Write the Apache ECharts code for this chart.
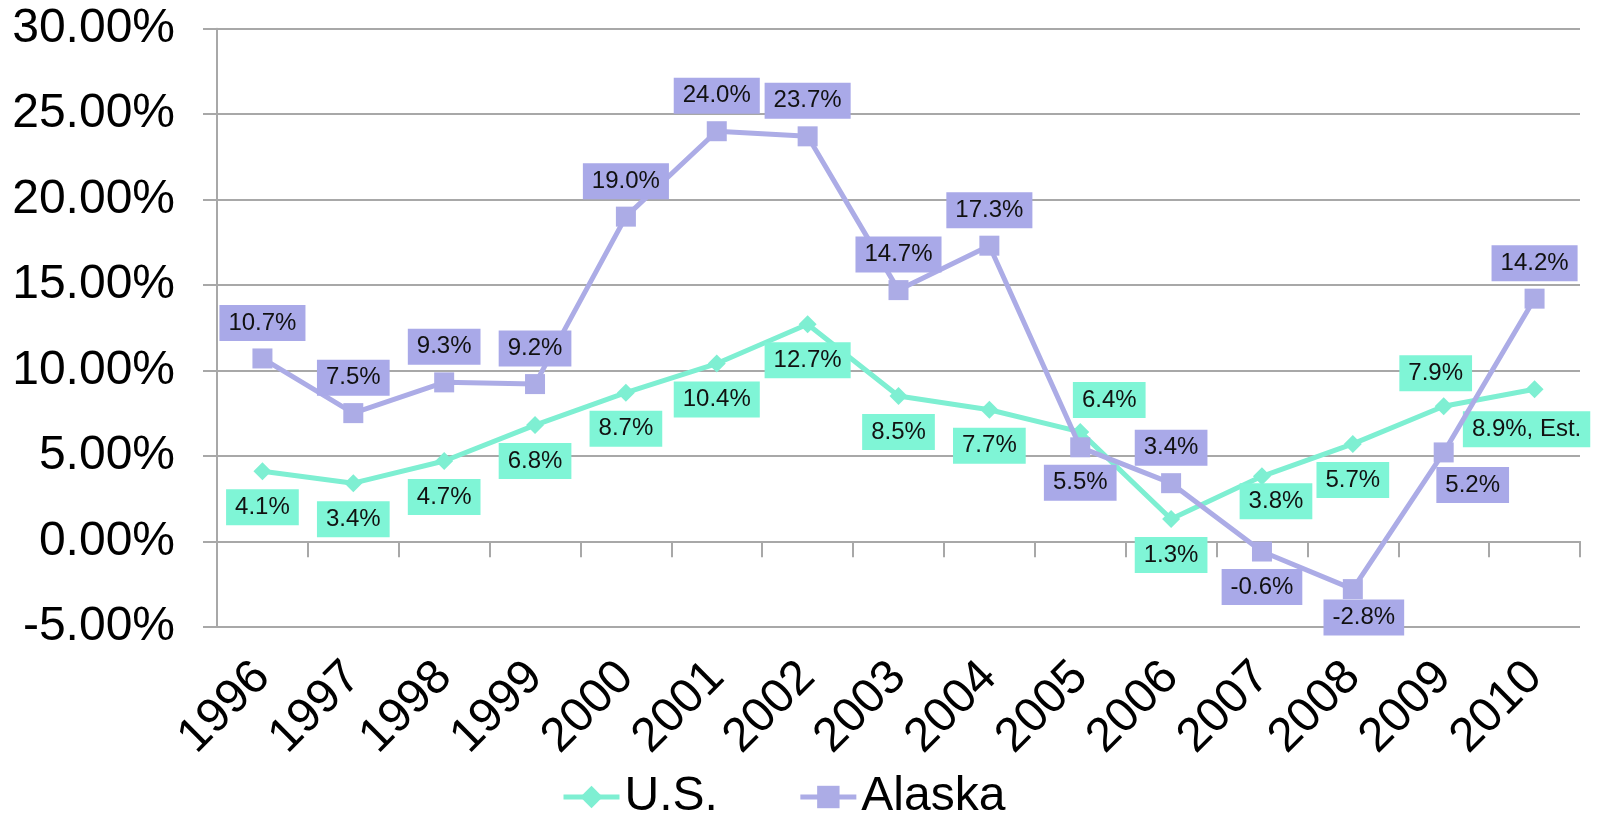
<!DOCTYPE html>
<html>
<head>
<meta charset="utf-8">
<script src="https://cdn.jsdelivr.net/npm/echarts@6/dist/echarts.min.js"></script>
<style>
html,body{margin:0;padding:0;background:#fff;}
#chart{width:1600px;height:816px;}
</style>
</head>
<body>
<div id="chart"></div>
<script>
const years = ['1996','1997','1998','1999','2000','2001','2002','2003','2004','2005','2006','2007','2008','2009','2010'];
const usValues = [4.1, 3.4, 4.7, 6.8, 8.7, 10.4, 12.7, 8.5, 7.7, 6.4, 1.3, 3.8, 5.7, 7.9, 8.9];
const alaskaValues = [10.7, 7.5, 9.3, 9.2, 19.0, 24.0, 23.7, 14.7, 17.3, 5.5, 3.4, -0.6, -2.8, 5.2, 14.2];
const usNotes = ['', '', '', '', '', '', '', '', '', '', '', '', '', '', ', Est.'];
const yMin = -5, yMax = 30, yStep = 5;

// label placement (style, not data)
const usLabelPlace = ['bottom','bottom','bottom','bottom','bottom','bottom','bottom','bottom','bottom','top','bottom','bottom','bottom','top','bottom'];
const usLabelShift = {9: [29, 4], 11: [14, -11], 13: [-8, 3], 14: [-8, 4]};
const akLabelPlace = ['top','top','top','top','top','top','top','top','top','bottom','top','bottom','bottom','bottom','top'];
const akLabelShift = {12: [11, -7], 13: [29, -3]};

const FONT = "'Liberation Sans', Arial, sans-serif";
const US_LINE = '#7eefd2', US_BG = '#7ff5d6';
const AK_LINE = '#acace6', AK_BG = '#a9a9e8';
const GRID = '#a8a8a8';

function buildData(values, places, shifts, bg, dist, notes) {
  return values.map((v, i) => ({
    value: v,
    label: {
      position: places[i],
      distance: dist,
      offset: shifts[i] || [0, 0],
      formatter: () => v.toFixed(1) + '%' + (notes ? notes[i] : ''),
      backgroundColor: bg
    }
  }));
}

const labelBase = {
  show: true,
  fontFamily: FONT,
  fontSize: 24,
  lineHeight: 24,
  color: '#111',
  padding: [6, 9]
};

const chart = echarts.init(document.getElementById('chart'), null, {renderer: 'canvas'});
chart.setOption({
  backgroundColor: '#fff',
  animation: false,
  textStyle: {fontFamily: FONT},
  grid: {left: 217, right: 20, top: 28.7, bottom: 189.3, containLabel: false},
  legend: {
    data: ['U.S.', 'Alaska'],
    left: 556,
    top: 768,
    itemWidth: 56,
    itemHeight: 28,
    itemGap: 80,
    lineStyle: {width: 5},
    textStyle: {fontSize: 48, color: '#000', fontFamily: FONT}
  },
  xAxis: [
    {
      type: 'category',
      data: years,
      boundaryGap: true,
      axisLine: {show: true, onZero: true, lineStyle: {color: GRID, width: 2}},
      axisTick: {show: true, length: 16, lineStyle: {color: GRID, width: 2}},
      axisLabel: {show: false},
      splitLine: {show: false}
    },
    {
      type: 'category',
      data: years,
      position: 'bottom',
      boundaryGap: true,
      axisLine: {show: false, onZero: false},
      axisTick: {show: false},
      axisLabel: {show: true, rotate: 45, margin: 43, fontSize: 48, color: '#000', fontFamily: FONT, interval: 0},
      splitLine: {show: false}
    }
  ],
  yAxis: {
    type: 'value',
    min: yMin,
    max: yMax,
    interval: yStep,
    axisLine: {show: true, onZero: false, lineStyle: {color: GRID, width: 2}},
    axisTick: {show: true, length: 14, lineStyle: {color: GRID, width: 2}},
    axisLabel: {
      margin: 42,
      fontSize: 48,
      color: '#000',
      fontFamily: FONT,
      formatter: v => v.toFixed(2) + '%'
    },
    splitLine: {show: true, lineStyle: {color: GRID, width: 2}}
  },
  series: [
    {
      name: 'U.S.',
      type: 'line',
      xAxisIndex: 0,
      data: buildData(usValues, usLabelPlace, usLabelShift, US_BG, 9, usNotes),
      symbol: 'diamond',
      symbolSize: 18,
      lineStyle: {color: US_LINE, width: 5},
      itemStyle: {color: US_LINE},
      label: labelBase,
      z: 2
    },
    {
      name: 'Alaska',
      type: 'line',
      xAxisIndex: 0,
      data: buildData(alaskaValues, akLabelPlace, akLabelShift, AK_BG, 7.5, null),
      symbol: 'rect',
      symbolSize: 20,
      lineStyle: {color: AK_LINE, width: 5},
      itemStyle: {color: AK_LINE},
      label: labelBase,
      z: 3
    }
  ]
});
</script>
</body>
</html>
